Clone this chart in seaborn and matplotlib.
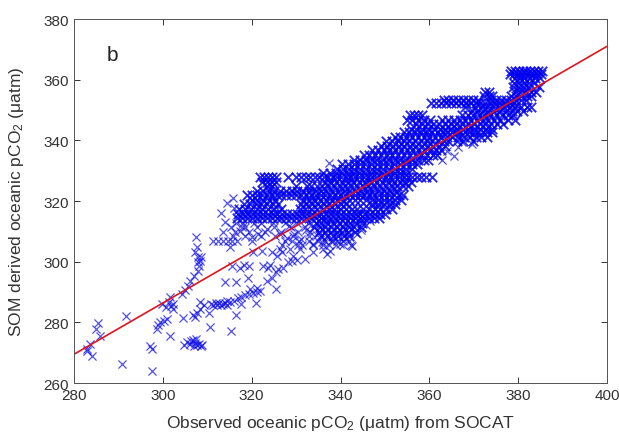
import matplotlib
matplotlib.use("Agg")
import matplotlib.pyplot as plt
import seaborn as sns
import pandas as pd

# scattered points in the low tail, (observed, SOM) pairs
tail_pts = [
    (282.9, 270.6), (283.6, 272.9), (284.0, 269.0), (283.0, 271.2), (284.9, 277.8),
    (285.3, 279.9), (285.9, 275.4), (290.9, 266.4), (291.7, 282.2), (297.6, 264.0),
    (297.1, 272.3), (297.5, 271.3), (298.6, 277.8), (299.0, 279.1), (299.4, 280.0),
    (300.9, 281.1), (300.2, 280.6), (301.6, 275.5), (299.8, 286.0), (300.6, 285.2),
    (301.4, 286.7), (301.9, 285.3), (302.3, 286.2), (301.6, 288.4), (302.2, 284.4),
    (304.5, 281.6), (304.2, 289.3), (305.0, 290.8), (305.6, 292.1), (306.1, 293.7),
    (306.9, 295.4), (307.8, 297.0), (308.2, 298.7), (308.4, 300.3), (308.0, 301.4),
    (307.2, 303.1), (307.6, 304.7), (307.5, 308.0), (307.9, 300.0), (308.5, 301.5),
    (304.8, 272.6), (305.5, 273.4), (306.0, 272.8), (306.4, 273.9), (306.9, 272.2),
    (307.3, 273.2), (307.7, 272.4), (308.1, 272.9), (308.5, 272.1), (308.8, 272.6),
    (307.5, 274.5), (306.7, 274.2), (307.3, 281.9), (307.7, 283.0), (308.4, 284.4),
    (306.8, 282.5), (308.4, 286.6), (309.2, 285.6), (310.4, 283.0), (310.6, 278.4),
    (310.8, 286.2), (311.4, 285.8), (311.9, 286.3), (312.3, 285.9), (312.7, 286.4),
    (313.1, 285.8), (313.5, 286.1), (314.0, 286.3), (314.4, 285.9), (315.3, 277.1),
    (316.5, 282.5), (317.7, 286.0), (321.0, 286.3),
]

# moderately sparse points between the tail and the dense band
mid_pts = [
    (314.4, 287.0), (315.1, 286.6), (316.1, 287.2), (316.9, 287.9), (317.6, 288.4),
    (318.4, 288.9), (319.3, 289.3), (320.2, 289.7), (321.1, 290.0), (321.9, 290.3),
    (319.6, 291.0), (321.1, 291.5), (325.5, 291.0), (314.1, 293.4), (316.5, 293.3),
    (319.2, 294.8), (323.5, 293.7), (324.6, 294.5), (325.5, 296.5), (326.0, 297.6),
    (327.1, 298.1), (328.2, 299.8), (329.0, 300.3), (330.1, 300.7), (332.0, 300.9),
    (315.6, 298.7), (317.4, 298.1), (318.3, 298.9), (319.5, 298.7), (322.6, 298.7),
    (323.6, 298.1), (324.1, 298.9), (320.4, 303.1), (322.3, 303.6), (324.5, 303.1),
    (325.6, 302.0), (326.4, 304.2), (326.8, 303.1), (328.6, 304.2), (329.4, 302.0),
    (330.9, 304.2), (333.9, 303.1), (336.1, 304.2), (336.9, 302.5), (335.8, 306.4),
    (337.6, 303.6), (313.6, 309.7), (315.1, 304.7), (317.4, 310.2), (318.5, 311.3),
    (320.0, 308.0), (321.5, 309.1), (323.4, 310.8), (314.5, 319.5), (315.8, 321.0),
    (316.0, 317.8), (313.2, 316.0), (314.0, 313.0), (337.3, 332.4), (369.5, 338.8),
    (364.0, 336.5), (365.6, 334.8), (367.3, 339.5), (362.8, 333.5), (366.5, 337.8),
    (338.4, 307.2), (339.8, 305.9), (341.3, 307.8), (342.5, 305.3), (343.6, 309.0),
    (344.7, 310.6), (345.8, 312.1), (346.6, 313.3), (327.9, 307.8), (329.6, 309.3),
    (331.2, 307.4), (332.3, 310.6), (333.7, 306.0), (330.4, 305.6), (328.3, 311.8),
    (326.3, 309.0), (334.6, 308.8),
]

# dense part: rows of (SOM value, observed values along that row)
band_rows = [
    (363.0, [378.4, 379.3, 380.1, 381.0, 381.8, 382.7, 383.5, 384.4, 385.3]),
    (361.8, [378.2, 379.1, 380.0, 380.9, 381.7, 382.6, 383.4, 384.3, 385.2]),
    (360.4, [379.3, 380.5, 381.4, 382.6, 383.8, 384.9]),
    (358.9, [379.0, 380.2, 381.3, 382.4, 383.6]),
    (357.5, [378.9, 380.0, 381.1, 382.3, 384.6]),
    (356.0, [372.6, 373.4, 379.3, 380.4, 381.6, 382.9, 384.0]),
    (354.6, [372.2, 373.5, 374.2, 378.3, 379.5, 380.7, 381.9, 382.8]),
    (353.2, [363.2, 364.3, 365.4, 366.5, 367.6, 368.7, 369.8, 370.9, 373.9, 375.0,
             376.1, 377.2, 378.3, 379.4, 380.6, 381.8]),
    (352.4, [360.3, 361.5, 362.7, 363.8, 364.9, 366.0, 367.1, 368.2, 369.3, 370.4,
             371.5, 372.6, 373.7, 374.8, 375.9, 377.0, 378.1, 379.0]),
    (351.0, [368.0, 370.2, 371.8, 373.0, 374.3, 375.6, 376.9, 378.1, 379.3, 380.6,
             381.9, 382.9]),
    (349.6, [369.5, 370.8, 372.0, 373.3, 374.6, 375.9, 377.2, 378.5, 379.8, 381.1]),
    (348.2, [355.6, 356.5, 357.4, 358.4, 367.4, 368.6, 369.9, 371.1, 372.4, 373.7,
             375.0, 376.3, 377.6, 378.9]),
    (346.8, [355.0, 356.2, 357.5, 358.8, 360.1, 362.9, 364.2, 365.5, 366.8, 368.1,
             369.4, 370.7, 372.0, 373.3, 374.6, 375.9, 377.8, 379.2]),
    (345.3, [357.0, 358.3, 359.6, 360.9, 362.2, 363.5, 364.8, 366.1, 367.4, 368.7,
             370.0, 371.3, 372.6, 373.9, 375.2, 376.5]),
    (343.8, [355.8, 357.1, 358.4, 359.7, 361.0, 362.3, 363.6, 364.9, 366.2, 367.5,
             368.8, 370.1, 371.4, 372.7, 374.0]),
    (342.6, [354.2, 355.5, 356.8, 358.1, 359.4, 360.7, 362.0, 363.0, 364.0, 365.0,
             366.0, 367.0, 368.0, 369.0, 370.0, 371.0, 372.0, 373.0, 374.0]),
    (341.2, [352.2, 353.5, 354.8, 356.1, 357.4, 358.7, 360.0, 361.3, 362.6, 363.9,
             365.2, 366.5, 367.8, 369.1, 370.4, 371.7, 372.9]),
    (339.7, [350.3, 351.6, 352.9, 354.2, 355.5, 356.8, 358.1, 359.4, 360.7, 362.0,
             363.3, 364.3, 366.2, 367.6, 369.8]),
    (338.2, [349.2, 350.5, 351.8, 353.1, 354.4, 355.7, 357.0, 358.3, 359.6, 360.9,
             362.2, 363.5]),
    (336.7, [347.1, 348.4, 349.7, 351.0, 352.3, 353.6, 354.9, 356.2, 357.5, 358.8,
             360.1, 361.4, 362.7]),
    (335.2, [345.2, 346.5, 347.8, 349.1, 350.4, 351.7, 353.0, 354.3, 355.6, 356.9,
             358.2, 359.5, 360.8, 361.8]),
    (333.6, [343.1, 344.4, 345.7, 347.0, 348.3, 349.6, 350.9, 352.2, 353.5, 354.8,
             356.1, 357.4, 358.7, 359.8]),
    (332.1, [340.4, 341.7, 343.0, 344.3, 345.6, 346.9, 348.2, 349.5, 350.8, 352.1,
             353.4, 354.7, 356.0, 357.3]),
    (330.6, [339.2, 340.5, 341.8, 343.1, 344.4, 345.7, 347.0, 348.3, 349.6, 350.9,
             352.2, 353.5, 354.8, 356.0]),
    (329.1, [336.0, 337.6, 339.0, 340.3, 341.6, 342.9, 344.2, 345.5, 346.8, 348.1,
             349.4, 350.7, 352.0, 353.3, 354.6]),
    (327.8, [321.9, 322.8, 323.7, 324.6, 325.5, 328.2, 330.0, 331.2, 332.2, 333.2,
             334.2, 335.2, 336.2, 337.2, 338.2, 339.2, 340.2, 341.2, 342.2, 343.2,
             344.2, 345.2, 346.2, 347.2, 348.2, 349.2, 350.2, 351.2, 352.2, 353.2,
             354.2, 355.2, 356.2, 357.2, 358.2, 359.2, 360.5]),
    (326.4, [322.3, 323.4, 324.5, 325.4, 336.4, 337.7, 339.0, 340.3, 341.6, 342.9,
             344.2, 345.5, 346.8, 348.1, 349.4, 350.7, 352.0, 353.3, 354.6, 355.8]),
    (324.9, [323.4, 324.6, 330.0, 332.5, 333.3, 334.6, 335.9, 337.2, 338.5, 339.8,
             341.1, 342.4, 343.7, 345.0, 346.3, 347.6, 348.9, 350.2, 351.5, 352.8,
             354.1, 355.2]),
    (323.4, [321.2, 322.5, 323.8, 325.1, 326.4, 327.7, 329.0, 330.3, 331.6, 332.9,
             334.2, 335.5, 336.8, 338.1, 339.4, 340.7, 342.0, 343.3, 344.6, 345.9,
             347.2, 348.5, 349.8, 351.1, 352.4]),
    (321.9, [319.0, 320.1, 321.2, 322.3, 323.4, 324.5, 325.6, 326.7, 327.8, 328.9,
             330.0, 331.1, 332.2, 333.3, 334.4, 335.5, 336.6, 337.7, 338.8, 339.9,
             341.0, 342.1, 343.2, 344.3, 345.4, 346.5, 347.6, 348.7, 349.8, 350.9,
             352.0, 353.1, 354.0]),
    (320.4, [320.0, 321.3, 322.6, 323.9, 325.2, 331.5, 332.8, 334.1, 335.4, 336.7,
             338.0, 339.3, 340.6, 341.9, 343.2, 344.5, 345.8, 347.1, 348.4, 349.7,
             351.0, 352.3, 353.6]),
    (318.9, [318.3, 319.6, 320.9, 322.2, 323.5, 324.8, 326.0, 331.0, 332.3, 333.6,
             334.9, 336.2, 337.5, 338.8, 340.1, 341.3, 347.2, 348.5, 349.8, 351.1,
             352.2]),
    (317.4, [317.2, 318.5, 319.8, 321.1, 322.4, 323.7, 325.0, 326.5, 330.8, 332.1,
             333.4, 334.7, 336.0, 337.3, 338.6, 339.9, 341.2, 342.5, 343.8, 345.1,
             346.4, 347.7, 349.0, 350.3, 351.6]),
    (315.8, [317.0, 318.1, 319.2, 320.3, 321.4, 322.5, 323.6, 324.7, 325.8, 326.9,
             328.0, 329.1, 330.2, 331.3, 332.4, 333.5, 334.6, 335.7, 336.8, 337.9,
             339.0, 340.1, 341.2, 342.3, 343.4, 344.5, 345.6, 346.7, 347.8, 348.9,
             350.0]),
    (314.4, [316.8, 317.9, 319.0, 320.1, 321.2, 322.3, 323.4, 324.5, 325.6, 326.7,
             327.8, 328.9, 330.0, 331.1, 332.2, 333.3, 334.4, 335.5, 336.6, 337.7,
             338.8, 339.9, 341.0, 342.1, 343.2, 344.3, 345.4, 346.5, 347.6, 348.7]),
    (312.9, [334.4, 335.7, 337.0, 338.3, 339.6, 340.9, 342.2, 343.5, 344.8]),
    (311.4, [334.0, 335.3, 336.6, 337.9, 339.2, 340.5, 341.8, 343.1, 344.6]),
    (309.9, [335.2, 336.5, 337.8, 339.1, 340.4, 341.7, 343.3]),
    (308.4, [335.6, 336.9, 338.2, 339.5, 340.8, 342.0]),
]

# sparse rows below the band (drawn with the light style)
low_rows = [
    (312.9, [316.5, 318.0, 320.5, 322.0, 324.8, 327.5, 330.1, 332.6]),
    (311.4, [315.4, 317.9, 321.3, 325.0, 328.8, 331.9]),
    (309.9, [316.2, 319.4, 323.1, 326.7, 330.5, 333.2]),
    (308.4, [315.9, 318.5, 322.0, 325.2, 329.3, 332.8]),
    (306.9, [311.3, 312.4, 313.5, 314.6, 315.6, 316.7, 320.0, 327.4, 329.0, 330.6,
             333.0, 335.0, 336.4, 337.8, 339.2, 340.6, 342.0]),
    (305.4, [326.8, 331.3, 333.9, 336.0, 337.5, 339.0, 340.6, 342.4]),
]

# regression line end points
fit_obs = [280, 400]
fit_som = [269.5, 371.0]

x_ticks = [280, 300, 320, 340, 360, 380, 400]
y_ticks = [260, 280, 300, 320, 340, 360, 380]


def rows_to_frame(rows):
    xs, ys = [], []
    for yv, row in rows:
        xs += row
        ys += [yv] * len(row)
    return pd.DataFrame({"obs": xs, "som": ys})


sparse = pd.concat([
    pd.DataFrame(tail_pts + mid_pts, columns=["obs", "som"]),
    rows_to_frame(low_rows),
])
dense = rows_to_frame(band_rows)

sns.set_style("ticks")
plt.rcParams['font.family'] = ['Liberation Sans', 'DejaVu Sans']
plt.rcParams['mathtext.default'] = 'regular'

fig = plt.figure(figsize=(6.19, 4.35), dpi=100)
ax = fig.add_axes([0.1196, 0.117, 0.861, 0.837])

sns.scatterplot(data=sparse, x="obs", y="som", marker="x", color="#0a0ae6",
                s=34, linewidth=0.9, alpha=0.7, ax=ax, legend=False)
sns.scatterplot(data=dense, x="obs", y="som", marker="x", color="#0000f0",
                s=46, linewidth=1.35, alpha=0.85, ax=ax, legend=False)
sns.lineplot(x=fit_obs, y=fit_som, color="#e0141e", linewidth=1.2, ax=ax)

ax.set_xlim(280, 400)
ax.set_ylim(260, 380)
ax.set_xticks(x_ticks)
ax.set_yticks(y_ticks)
ax.tick_params(direction="in", top=True, right=True, length=4, width=0.7,
               labelsize=11, colors="#333333")
for sp in ax.spines.values():
    sp.set_color("#555555")
    sp.set_linewidth(0.7)

ax.set_xlabel(r"Observed oceanic pCO$_2$ ($\mu$atm) from SOCAT", fontsize=12.5,
              color="#333333", labelpad=8)
ax.set_ylabel(r"SOM derived oceanic pCO$_2$ ($\mu$atm)", fontsize=12.5,
              color="#333333", labelpad=13)
ax.text(288.6, 368.3, "b", fontsize=15, color="#222222", ha="center", va="center")

fig.savefig("out.png", dpi=100)
